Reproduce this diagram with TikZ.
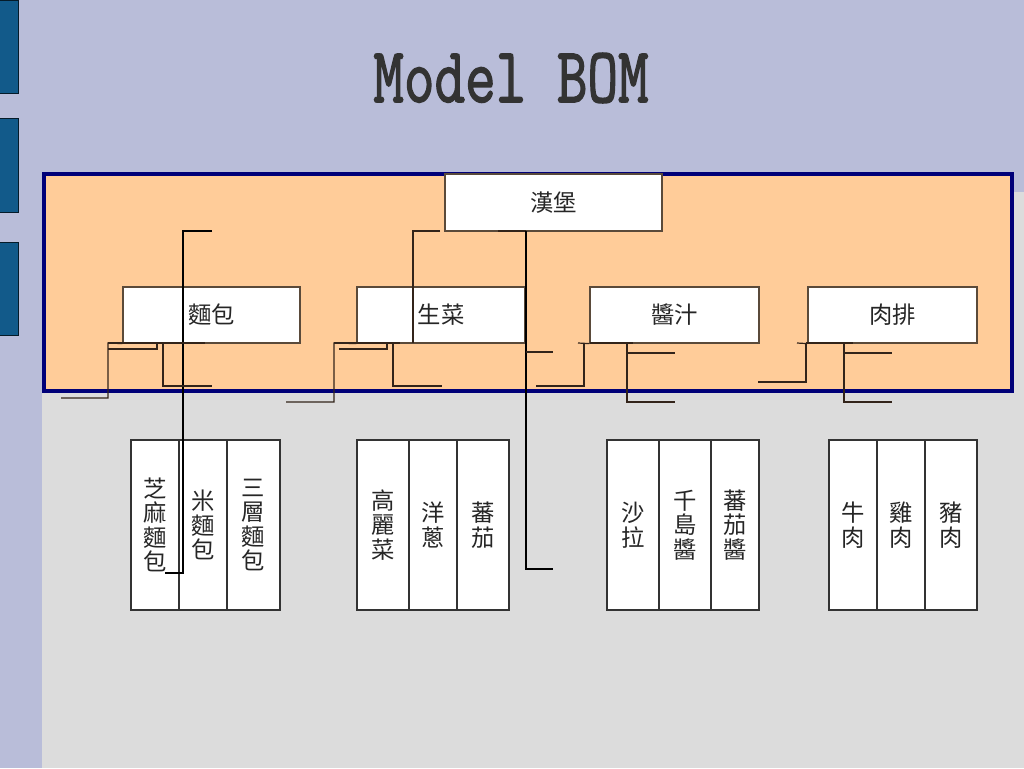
\documentclass[tikz,border=0pt]{standalone}
\usepackage{fontspec}
\usepackage{graphicx}
\newfontfamily\cjk{Noto Sans CJK TC}
\newfontfamily\titlefont{Latin Modern Mono}[FakeBold=2]
\definecolor{lav}{HTML}{B9BDD9}
\definecolor{grayarea}{HTML}{DCDCDC}
\definecolor{peach}{HTML}{FFCC99}
\definecolor{navyb}{HTML}{000078}
\definecolor{barblue}{HTML}{125A8A}
\definecolor{boxline}{HTML}{5A4A3A}
\definecolor{brownline}{HTML}{33241A}
\tikzset{
  box/.style={draw=boxline, line width=0.9pt, fill=white, inner sep=0pt,
    font=\cjk\fontsize{17.5}{18.4}\selectfont, text=black!85, align=center},
  col/.style={draw=black!80, line width=0.9pt, fill=white, inner sep=0pt,
    font=\cjk\fontsize{17.5}{18.4}\selectfont, text=black!85, align=center},
  conn/.style={draw=brownline, line width=0.9pt},
  connk/.style={draw=black, line width=0.9pt},
}
\newcommand\bx[7]{\node[#1, minimum width={(#5-#3)*0.75pt}, minimum height={(#6-#4)*0.75pt}] (#2) at ({(#3+#5)/2},{(#4+#6)/2}) {#7};}
\begin{document}
\begin{tikzpicture}[x=0.75pt,y=-0.75pt]
\useasboundingbox (0,0) rectangle (1024,768);
% background
\fill[lav] (0,0) rectangle (1024,768);
\fill[grayarea] (42,192) rectangle (1024,768);
% blue bars
\foreach \a/\b in {0/93,118/212,242/335}
  \filldraw[fill=barblue, draw=black!70!barblue, line width=0.6pt] (-2,\a) rectangle (18,\b);
% title
\node (title) at (511,78) {\color{black!80}\titlefont\fontsize{59}{62}\selectfont\scalebox{0.755}[1]{Model BOM}};
% orange frame
\filldraw[fill=peach, draw=navyb, line width=3pt] (44,174) rectangle (1012,391);
% top boxes
\bx{box}{hb}{445}{174}{662}{231}{漢堡}
\bx{box}{bread}{123}{287}{300}{343}{麵包}
\bx{box}{veg}{357}{287}{525}{343}{生菜}
\bx{box}{sauce}{590}{287}{759}{343}{醬汁}
\bx{box}{meat}{808}{287}{977}{343}{肉排}
% lower columns
\bx{col}{c11}{131}{440}{179}{610}{芝\\麻\\麵\\包}
\bx{col}{c12}{179}{440}{227}{610}{米\\麵\\包}
\bx{col}{c13}{227}{440}{280}{610}{三\\層\\麵\\包}
\bx{col}{c21}{357}{440}{409}{610}{高\\麗\\菜}
\bx{col}{c22}{409}{440}{457}{610}{洋\\蔥}
\bx{col}{c23}{457}{440}{509}{610}{蕃\\茄}
\bx{col}{c31}{607}{440}{659}{610}{沙\\拉}
\bx{col}{c32}{659}{440}{711}{610}{千\\島\\醬}
\bx{col}{c33}{711}{440}{759}{610}{蕃\\茄\\醬}
\bx{col}{c41}{829}{440}{877}{610}{牛\\肉}
\bx{col}{c42}{877}{440}{925}{610}{雞\\肉}
\bx{col}{c43}{925}{440}{977}{610}{豬\\肉}
% connectors: bread
\draw[connk] (212,231) -- (183,231) -- (183,573) -- (165,573);
\draw[conn] (bread.south west) -- (108,343) -- (108,398) -- (61,398);
\draw[conn] (108,349) -- (157,349) -- (157,343);
\draw[conn] (108,343) -- (205,343);
\draw[conn] (163,343) -- (163,386) -- (212,386);
% connectors: vegetables
\draw[conn] (440,231) -- (413,231) -- (413,343);
\draw[conn] (veg.south west) -- (334,343) -- (334,402) -- (286,402);
\draw[conn] (339,349) -- (387,349) -- (387,343);
\draw[conn] (334,343) -- (400,343);
\draw[conn] (393,343) -- (393,386) -- (442,386);
% connectors: hamburger
\draw[conn] (498,231) -- (526,231);
\draw[connk] (526,231) -- (526,569) -- (553,569);
\draw[conn] (526,352) -- (553,352);
% connectors: sauce
\draw[conn] (578,343) -- (sauce.south west);
\draw[conn] (584,343) -- (584,386) -- (536,386);
\draw[conn] (590,343) -- (633,343);
\draw[conn] (627,343) -- (627,402) -- (675,402);
\draw[conn] (627,353) -- (675,353);
% connectors: meat
\draw[conn] (797,343) -- (meat.south west);
\draw[conn] (806,343) -- (806,382) -- (758,382);
\draw[conn] (806,343) -- (853,343);
\draw[conn] (844,343) -- (844,402) -- (892,402);
\draw[conn] (844,353) -- (892,353);
\end{tikzpicture}
\end{document}
